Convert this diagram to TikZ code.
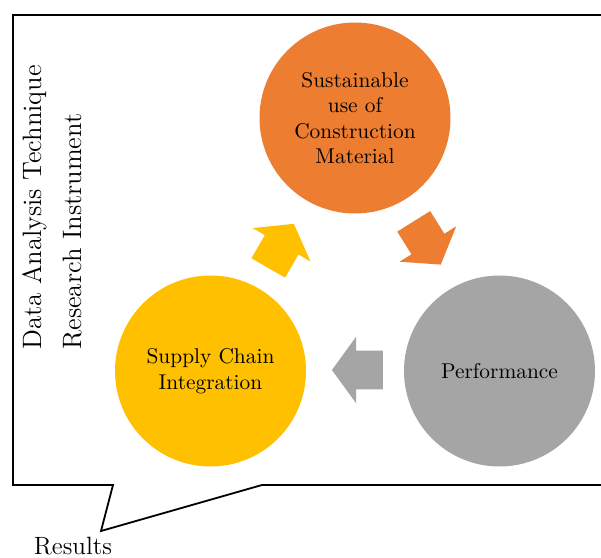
\documentclass[tikz,border=0pt]{standalone}
\usetikzlibrary{shapes.arrows}
\definecolor{orng}{HTML}{ED7D31}
\definecolor{ylw}{HTML}{FFC000}
\definecolor{gry}{HTML}{A5A5A5}
\begin{document}
\begin{tikzpicture}[x=0.5pt,y=0.5pt,
ball/.style={circle,minimum size=95.5pt,inner sep=0pt,align=center,font=\fontsize{10.7}{12.7}\selectfont},
blk/.style={single arrow,inner xsep=0pt,inner ysep=9.5pt,minimum width=0pt,minimum height=25.5pt,single arrow head extend=7pt,single arrow tip angle=108},
side/.style={rotate=90,anchor=west,inner sep=0pt,font=\fontsize{13.3}{15}\selectfont}]
\useasboundingbox (0,0) rectangle (601,558);
\coordinate (tip) at (101,27);
\draw[line width=0.9pt] (603,543)--(13,543)--(13,73)--(113,73)--(tip)--(262,73)--(603,73);
\node[ball,fill=orng](s) at (355,440){Sustainable\\use of\\Construction\\Material};
\node[ball,fill=ylw](c) at (210.5,187){Supply Chain\\Integration};
\node[ball,fill=gry](p) at (499.5,187){Performance};
\node[blk,fill=ylw,rotate=60](cs) at (277.5,306){};
\node[blk,fill=orng,rotate=-58](sp) at (423.5,321){};
\node[blk,fill=gry,rotate=180](pc) at (364.5,188){};
\node[side](da) at (34.5,208){Data Analysis Technique};
\node[side](ri) at (72.5,208){Research Instrument};
\node[font=\fontsize{12.5}{14}\selectfont](res) at (73,11.5){Results};
\end{tikzpicture}
\end{document}
